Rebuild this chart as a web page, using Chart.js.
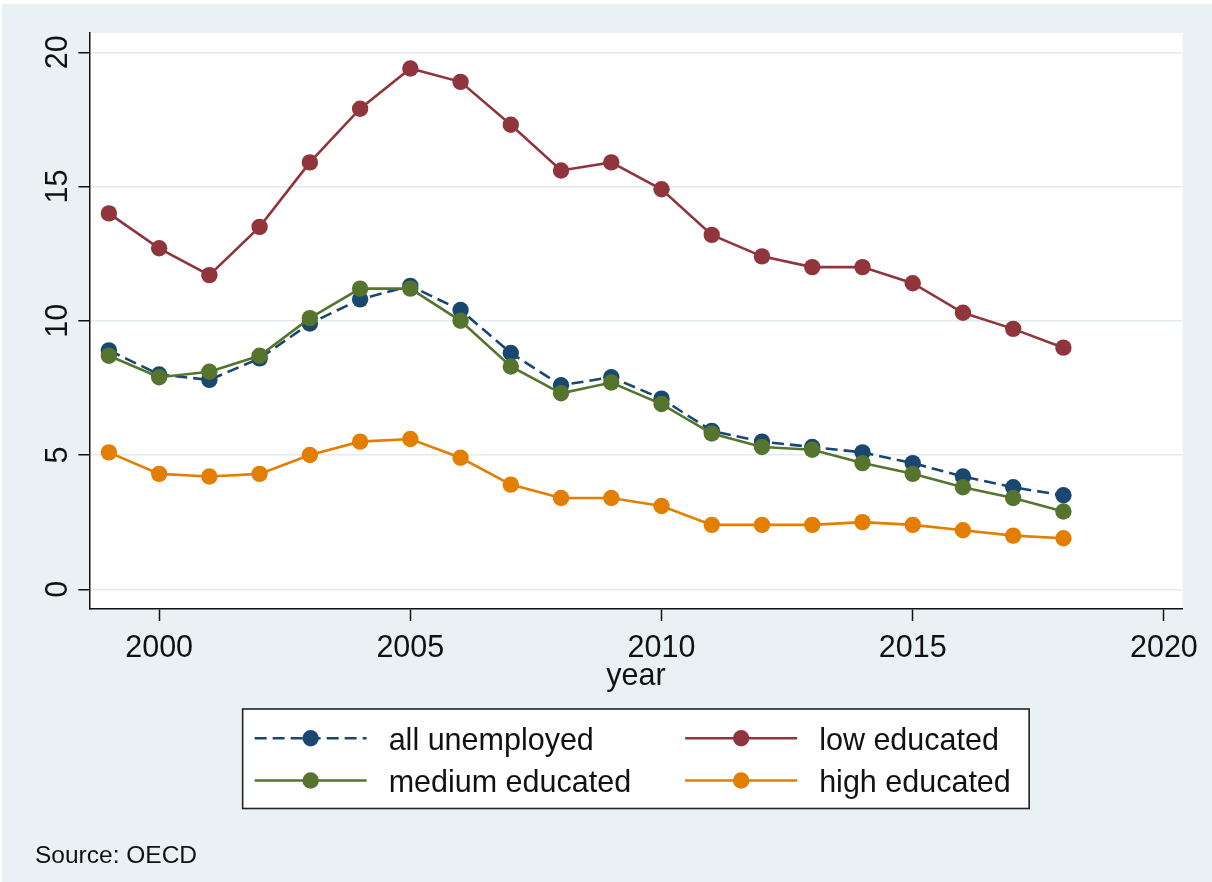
<!DOCTYPE html>
<html>
<head>
<meta charset="utf-8">
<script src="https://cdn.jsdelivr.net/npm/chart.js@4.4.1/dist/chart.umd.min.js"></script>
<style>
  html, body { margin: 0; padding: 0; background: #ffffff; }
  canvas { display: block; }
</style>
</head>
<body>
<canvas id="chart" width="1212" height="882"></canvas>
<script>
// Unemployment rate (%) by education level, OECD
const years = [1999, 2000, 2001, 2002, 2003, 2004, 2005, 2006, 2007, 2008,
               2009, 2010, 2011, 2012, 2013, 2014, 2015, 2016, 2017, 2018];
const allUnemployed  = [8.9, 8.0, 7.8, 8.6, 9.9, 10.8, 11.3, 10.4, 8.8, 7.6,
                        7.9, 7.1, 5.9, 5.5, 5.3, 5.1, 4.7, 4.2, 3.8, 3.5];
const lowEducated    = [14.0, 12.7, 11.7, 13.5, 15.9, 17.9, 19.4, 18.9, 17.3, 15.6,
                        15.9, 14.9, 13.2, 12.4, 12.0, 12.0, 11.4, 10.3, 9.7, 9.0];
const mediumEducated = [8.7, 7.9, 8.1, 8.7, 10.1, 11.2, 11.2, 10.0, 8.3, 7.3,
                        7.7, 6.9, 5.8, 5.3, 5.2, 4.7, 4.3, 3.8, 3.4, 2.9];
const highEducated   = [5.1, 4.3, 4.2, 4.3, 5.0, 5.5, 5.6, 4.9, 3.9, 3.4,
                        3.4, 3.1, 2.4, 2.4, 2.4, 2.5, 2.4, 2.2, 2.0, 1.9];
const xTicks = [2000, 2005, 2010, 2015, 2020];
const yTicks = [0, 5, 10, 15, 20];
const xTitle = 'year';
const sourceNote = 'Source: OECD';

const FONT = '"Liberation Sans", Arial, Helvetica, sans-serif';
const INK = '#111111';
const OUTER_BG = '#eaf1f4';
const GRID = '#e2eaee';

const COLORS = {
  navy: '#1a476f',
  maroon: '#90353b',
  green: '#55752f',
  orange: '#e37e00'
};

const toPoints = (vals) => years.map((y, i) => ({ x: y, y: vals[i] }));

function series(label, vals, color, dash) {
  return {
    label,
    data: toPoints(vals),
    borderColor: color,
    backgroundColor: color,
    borderWidth: 2.6,
    borderDash: dash || [],
    pointRadius: 8.2,
    pointBorderWidth: 0,
    pointBackgroundColor: color,
    pointHoverRadius: 8.2,
    tension: 0,
    fill: false
  };
}

// First dataset is painted last (on top)
const dsHigh = series('high educated', highEducated, COLORS.orange);
const dsMedium = series('medium educated', mediumEducated, COLORS.green);
const dsLow = series('low educated', lowEducated, COLORS.maroon);
const dsAll = series('all unemployed', allUnemployed, COLORS.navy, [12, 6]);

// Legend layout: two columns, row-wise
const legendRows = [[dsAll, dsLow], [dsMedium, dsHigh]];

const decorations = {
  id: 'decorations',
  beforeDraw(chart) {
    const { ctx, chartArea: a, width, height } = chart;
    ctx.save();
    ctx.fillStyle = '#ffffff';
    ctx.fillRect(0, 0, width, height);
    ctx.fillStyle = OUTER_BG;
    ctx.fillRect(2, 4, width - 2, height - 4);
    ctx.fillStyle = '#ffffff';
    ctx.fillRect(a.left, a.top, a.right - a.left, a.bottom - a.top);
    ctx.restore();
  },
  afterDraw(chart) {
    const { ctx, chartArea: a } = chart;
    const xs = chart.scales.x;
    const ys = chart.scales.y;
    ctx.save();
    ctx.fillStyle = INK;
    ctx.font = '30.5px ' + FONT;

    // x tick labels
    ctx.textAlign = 'center';
    ctx.textBaseline = 'alphabetic';
    xs.ticks.forEach(t => {
      ctx.fillText(String(t.value), xs.getPixelForValue(t.value), xs.top + 48);
    });

    // y tick labels, rotated to read upwards
    ys.ticks.forEach(t => {
      ctx.save();
      ctx.translate(ys.right - 22.5, ys.getPixelForValue(t.value));
      ctx.rotate(-Math.PI / 2);
      ctx.textAlign = 'center';
      ctx.textBaseline = 'alphabetic';
      ctx.fillText(String(t.value), 0, 0);
      ctx.restore();
    });

    // x axis title
    const cx = (a.left + a.right) / 2;
    ctx.textAlign = 'center';
    ctx.fillText(xTitle, cx, xs.top + 76);

    // legend box
    const boxW = 786.5, boxH = 99.5, boxTop = 709;
    const boxLeft = cx - boxW / 2;
    ctx.fillStyle = '#ffffff';
    ctx.fillRect(boxLeft, boxTop, boxW, boxH);
    ctx.strokeStyle = '#222222';
    ctx.lineWidth = 1.6;
    ctx.strokeRect(boxLeft, boxTop, boxW, boxH);

    const colKeyLeft = [boxLeft + 12, boxLeft + 442.5];
    const keyLen = 112;
    const rowY = [738.3, 780.5];
    const rowBase = [750, 791.5];
    legendRows.forEach((row, r) => {
      row.forEach((ds, c) => {
        const x0 = colKeyLeft[c];
        const y = rowY[r];
        ctx.save();
        ctx.strokeStyle = ds.borderColor;
        ctx.lineWidth = ds.borderWidth;
        ctx.setLineDash(ds.borderDash);
        ctx.beginPath();
        ctx.moveTo(x0, y);
        ctx.lineTo(x0 + keyLen, y);
        ctx.stroke();
        ctx.setLineDash([]);
        ctx.fillStyle = ds.pointBackgroundColor;
        ctx.beginPath();
        ctx.arc(x0 + keyLen / 2, y, 8.2, 0, Math.PI * 2);
        ctx.fill();
        ctx.restore();
        ctx.fillStyle = INK;
        ctx.textAlign = 'left';
        ctx.font = '30.5px ' + FONT;
        ctx.fillText(ds.label, x0 + keyLen + 22, rowBase[r]);
      });
    });

    // source note
    ctx.fillStyle = INK;
    ctx.font = '24.5px ' + FONT;
    ctx.textAlign = 'left';
    ctx.fillText(sourceNote, 35, 863);
    ctx.restore();
  }
};

new Chart(document.getElementById('chart'), {
  type: 'line',
  data: { datasets: [dsHigh, dsMedium, dsLow, dsAll] },
  options: {
    responsive: false,
    animation: false,
    devicePixelRatio: 1,
    layout: { padding: { left: 78.3, right: 29.5, top: 33, bottom: 261 } },
    plugins: {
      legend: { display: false },
      tooltip: { enabled: false },
      title: { display: false }
    },
    scales: {
      x: {
        type: 'linear',
        min: 1998.61,
        max: 2020.37,
        afterBuildTicks: (s) => { s.ticks = xTicks.map(v => ({ value: v })); },
        afterFit: (s) => { s.height = 12; },
        ticks: { display: false },
        grid: {
          display: true,
          drawOnChartArea: false,
          drawTicks: true,
          tickLength: 12,
          tickColor: '#111111',
          tickWidth: 1.5
        },
        border: { display: true, color: '#111111', width: 1.5 }
      },
      y: {
        type: 'linear',
        min: -0.734,
        max: 20.72,
        afterBuildTicks: (s) => { s.ticks = yTicks.map(v => ({ value: v })); },
        afterFit: (s) => { s.width = 11; },
        ticks: { display: false },
        grid: {
          display: true,
          drawOnChartArea: true,
          color: GRID,
          lineWidth: 1.5,
          drawTicks: true,
          tickLength: 11,
          tickColor: '#111111',
          tickWidth: 1.5
        },
        border: { display: true, color: '#111111', width: 1.5 }
      }
    }
  },
  plugins: [decorations]
});
</script>
</body>
</html>
